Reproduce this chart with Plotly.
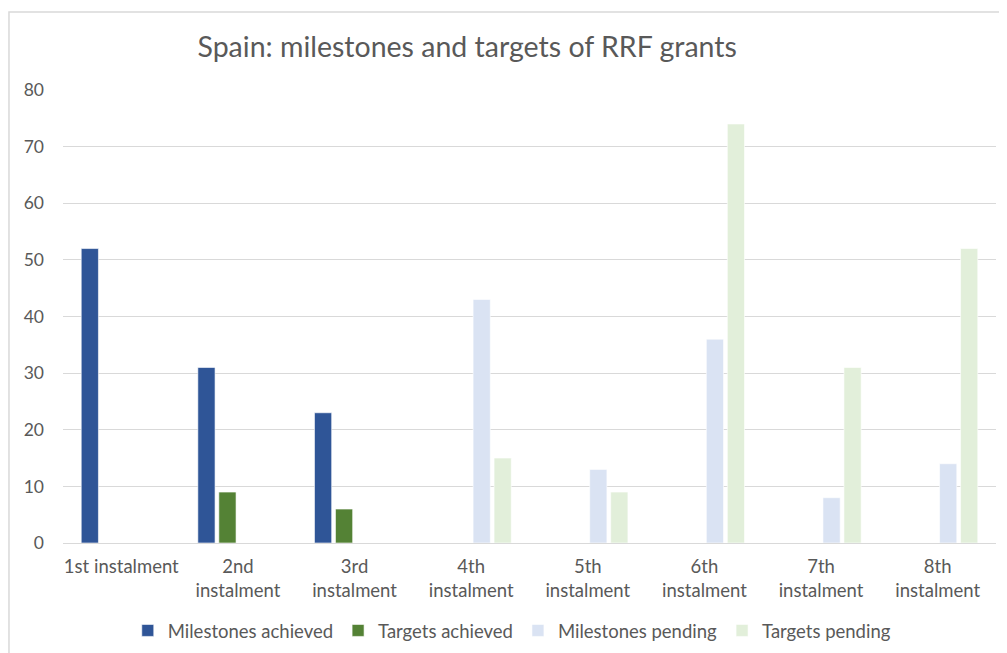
import plotly.graph_objects as go

categories = ["1st instalment", "2nd<br>instalment", "3rd<br>instalment", "4th<br>instalment",
              "5th<br>instalment", "6th<br>instalment", "7th<br>instalment", "8th<br>instalment"]
milestones_achieved = [52, 31, 23, 0, 0, 0, 0, 0]
targets_achieved = [0, 9, 6, 0, 0, 0, 0, 0]
milestones_pending = [0, 0, 0, 43, 13, 36, 8, 14]
targets_pending = [0, 0, 0, 15, 9, 74, 31, 52]

series = [
    ("Milestones achieved", milestones_achieved, "#2F5597"),
    ("Targets achieved", targets_achieved, "#548235"),
    ("Milestones pending", milestones_pending, "#DAE3F3"),
    ("Targets pending", targets_pending, "#E2EFDA"),
]

FONT = "Lato, Open Sans, sans-serif"
fig = go.Figure()
for name, vals, col in series:
    fig.add_trace(go.Bar(x=categories, y=vals, name=name,
                         marker=dict(color=col, line=dict(color="rgba(255,255,255,0.6)", width=1))))

fig.update_layout(
    width=1007, height=653,
    margin=dict(l=55, r=19, t=82, b=118, autoexpand=False),
    paper_bgcolor="white", plot_bgcolor="white",
    barmode="group", bargap=0.28, bargroupgap=0.18,
    font=dict(family=FONT, color="#595959", size=18.5),
    title=dict(text="Spain: milestones and targets of RRF grants", x=0.456, xanchor="center",
               y=0.94, yanchor="middle", font=dict(size=28.5, color="#595959", family=FONT)),
    legend=dict(orientation="h", x=0.481, xanchor="center", y=-0.194, yanchor="middle",
                font=dict(size=18.5, color="#595959"), itemwidth=30, traceorder="normal"),
    xaxis=dict(showgrid=False, showline=False, ticks="", tickangle=0, automargin=False,
               tickfont=dict(size=18.5), ticklabelstandoff=10),
    yaxis=dict(range=[0, 80], dtick=10, showgrid=True, gridcolor="#D9D9D9", gridwidth=1,
               zeroline=True, zerolinecolor="#D9D9D9", zerolinewidth=1, ticks="", automargin=False,
               tickfont=dict(size=17.5), ticklabelstandoff=18),
    shapes=[dict(type="rect", xref="paper", yref="paper", x0=-0.0579, x1=1.2, y0=-0.3, y1=1.172,
                 line=dict(color="#D9D9D9", width=1.5), fillcolor="rgba(0,0,0,0)", layer="below")],
)
fig.write_html("out.html")
